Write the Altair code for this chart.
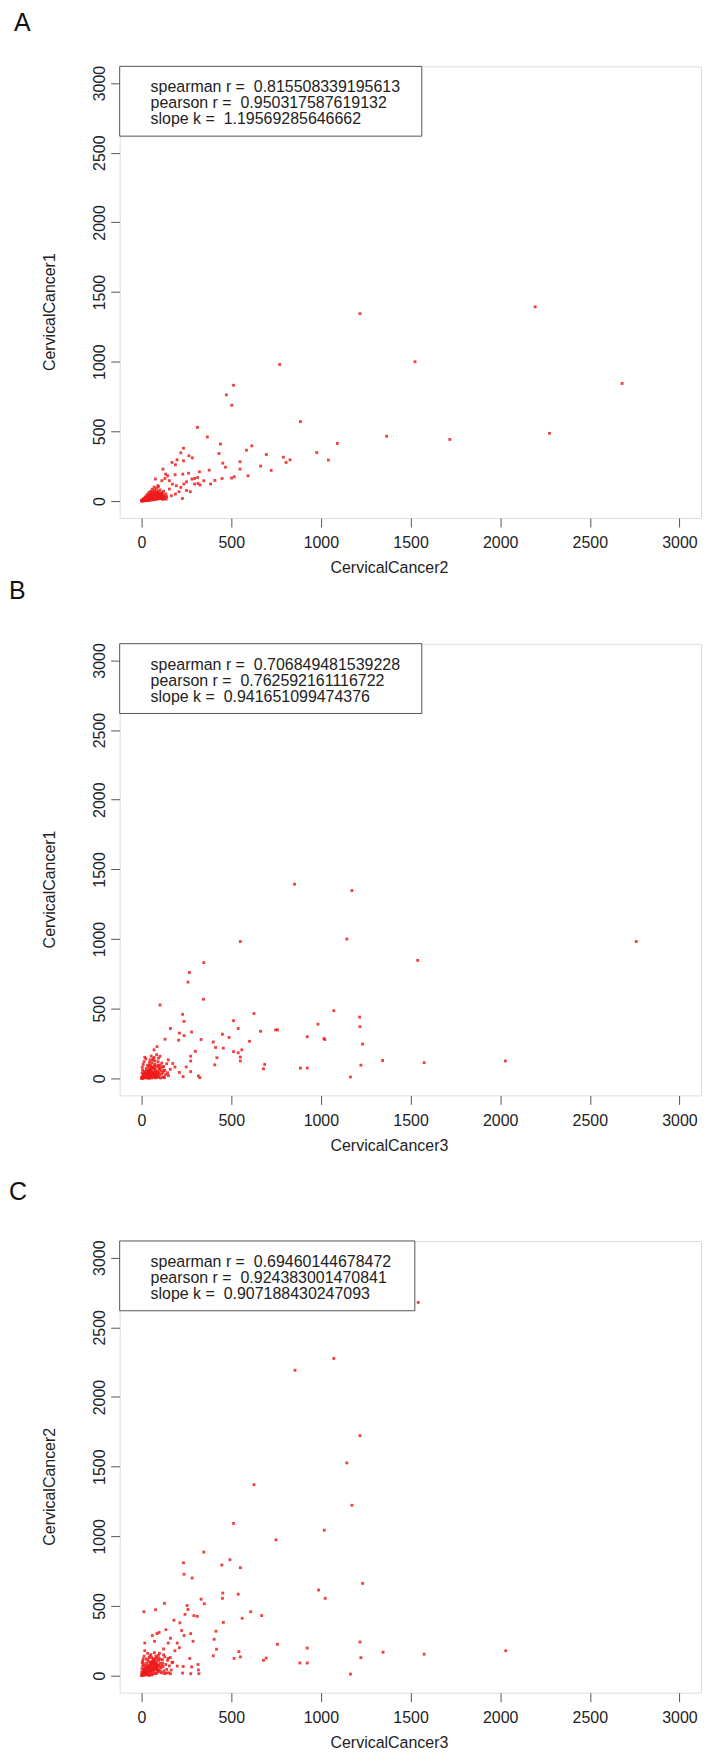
import altair as alt
import pandas as pd

FONT = "Liberation Sans"
RED = "#ee1c1c"
FRAME = "#555555"
TEXT = "#222222"
TICKS = [0, 500, 1000, 1500, 2000, 2500, 3000]
DOMAIN = [-122, 3120]

# ---------------- Panel A : x = CervicalCancer2, y = CervicalCancer1 ----------------
a_x = [2195, 1218, 770, 1525, 2680, 513, 473, 503, 886, 312, 367, 2275, 1367, 1719, 1092, 440, 977, 1042,
       432, 585, 615, 696, 791, 828, 806, 549, 664, 723, 594, 517, 502, 453, 468, 549, 449, 377, 385, 409,
       323, 313, 315, 296, 234, 219, 264, 283, 198, 189, 170, 234, 119, 134, 145, 130, 172, 194, 230, 262,
       281, 296, 236, 219, 251, 228, 272, 209, 155, 113, 91, 77, 166, 138, 189, 155, 187, 251, 326, 347,
       2, 5, 8, 10, 12, 15, 18, 20, 22, 25, 28, 30, 32, 35, 38, 40, 42, 45, 48, 50, 52, 55, 58, 60, 62, 65,
       68, 70, 72, 75, 78, 80, 82, 85, 88, 90, 92, 95, 98, 100, 104, 108, 112, 116, 120, 125, 130, 135, 140,
       6, 14, 24, 34, 44, 54, 64, 74, 84, 94, 40, 50, 60, 70, 30, 20, 10, 3, 16, 26, 36, 46, 56, 66, 76, 86,
       96, 106, 118, 128, 33, 43, 53, 63, 73, 83, 93, 103, 113, 123, 57, 47, 37, 27, 17, 7,
       4, 9, 13, 19, 23, 29, 31, 39, 41, 49, 51, 59, 61, 69, 71, 79, 81, 89, 91, 99, 101, 109, 111, 119,
       11, 21, 31, 41, 51, 61, 71, 81, 91, 101, 111, 121, 131, 15, 25, 35, 45, 55, 65, 75, 85, 95, 105, 115,
       1, 3, 6, 9, 12, 14, 17, 19, 23, 26, 29, 33, 36, 39, 44, 47, 52, 57, 63, 67, 72, 77, 83, 87]
a_y = [1394, 1345, 980, 1000, 844, 831, 762, 688, 570, 529, 460, 486, 465, 442, 414, 409, 348, 294,
       341, 365, 396, 334, 315, 296, 277, 282, 251, 220, 181, 174, 165, 272, 243, 229, 162, 222, 122, 148,
       210, 169, 126, 162, 379, 346, 325, 310, 296, 260, 277, 289, 229, 193, 181, 162, 122, 110, 193, 200,
       158, 122, 122, 98, 76, 19, 67, 67, 86, 146, 110, 158, 38, 14, 50, 146, 189, 138, 115, 146,
       1, 3, 2, 6, 9, 4, 12, 7, 15, 10, 18, 5, 22, 14, 26, 9, 30, 18, 34, 12, 25, 40, 20, 30, 45, 15,
       35, 50, 24, 42, 28, 55, 18, 38, 48, 22, 60, 33, 44, 26, 52, 36, 20, 46, 30, 40, 24, 50, 32,
       8, 16, 26, 36, 48, 58, 70, 80, 92, 105, 60, 70, 85, 100, 45, 30, 14, 5, 2, 3, 4, 6, 8, 10, 12, 14,
       16, 18, 12, 16, 12, 22, 32, 42, 52, 62, 72, 80, 62, 70, 50, 40, 30, 22, 14, 4,
       2, 6, 10, 14, 18, 22, 26, 30, 34, 38, 42, 46, 50, 54, 58, 62, 66, 58, 54, 50, 46, 42, 38, 34,
       3, 5, 7, 9, 11, 13, 15, 17, 19, 21, 23, 25, 27, 12, 18, 24, 28, 32, 36, 40, 44, 48, 52, 56,
       1, 2, 4, 7, 10, 6, 13, 16, 20, 9, 25, 28, 15, 31, 24, 37, 33, 20, 41, 30, 27, 45, 36, 40]

# ---------------- Panel B : x = CervicalCancer3, y = CervicalCancer1 ----------------
b_x = [853, 1173, 551, 1145, 2759, 1540, 347, 267, 259, 345, 103, 229, 237, 627, 1072, 1216, 1218, 1233,
       513, 539, 451, 488, 664, 748, 758, 984, 924, 1017, 1022, 602, 400, 413, 456, 513, 539, 559, 551, 551,
       420, 408, 687, 680, 886, 924, 1344, 1576, 2029, 1223, 1165, 161, 211, 131, 207, 237, 279, 332, 300,
       274, 274, 249, 274, 317, 325, 232, 149, 174, 103, 86, 70, 48, 18, 123, 211, 186, 98,
       2, 5, 8, 10, 12, 15, 18, 20, 22, 25, 28, 30, 32, 35, 38, 40, 42, 45, 48, 50, 52, 55, 58, 60, 62, 65,
       68, 70, 72, 75, 78, 80, 82, 85, 88, 90, 92, 95, 98, 100, 104, 108, 112, 116, 120, 125, 130, 135, 140,
       145, 3, 6, 4, 9, 14, 24, 34, 44, 54, 64, 74, 84, 94, 10, 16, 26, 36, 46, 56, 66, 76, 86, 96, 106, 118,
       128, 33, 43, 53, 63, 73, 83, 93, 103, 113, 123, 57, 47, 37, 27, 17, 7, 1, 150, 160,
       4, 9, 13, 19, 23, 29, 31, 39, 41, 49, 51, 59, 61, 69, 71, 79, 81, 89, 11, 21, 31, 41, 51, 61, 71, 81,
       1, 3, 6, 9, 12, 14, 17, 19, 23, 26, 29, 33, 36, 39, 44, 47, 52, 57, 63, 67, 72, 77, 83, 87]
b_y = [1394, 1348, 982, 1000, 982, 847, 831, 760, 691, 568, 527, 460, 409, 465, 486, 440, 371, 246,
       414, 358, 317, 294, 338, 348, 348, 389, 299, 286, 279, 266, 261, 222, 217, 192, 184, 205, 125, 153,
       148, 97, 100, 69, 74, 74, 128, 113, 125, 95, 10, 358, 325, 281, 274, 307, 333, 279, 194,
       159, 125, 82, 49, 18, 5, 13, 133, 107, 159, 228, 205, 133, 151, 56, 43, 82, 82,
       2, 10, 4, 20, 8, 30, 14, 40, 5, 25, 50, 12, 35, 60, 18, 45, 8, 70, 28, 90, 15, 55, 110, 35, 130, 20,
       75, 150, 42, 100, 10, 60, 30, 85, 48, 18, 120, 40, 65, 25, 95, 52, 32, 80, 44, 12, 58, 28, 105,
       40, 40, 60, 80, 100, 120, 140, 95, 115, 160, 140, 125, 170, 145, 30, 50, 70, 85, 5, 3, 8, 4, 6, 9, 3, 7,
       5, 2, 1, 20, 45, 65, 15, 95, 70, 110, 85, 75, 95, 22, 16, 24, 15, 5, 20, 65,
       6, 12, 18, 24, 30, 36, 42, 48, 54, 60, 66, 72, 78, 84, 90, 28, 34, 40, 3, 9, 15, 21, 27, 33, 39, 45,
       1, 2, 4, 7, 10, 6, 13, 16, 20, 9, 25, 28, 15, 31, 24, 37, 33, 20, 41, 30, 27, 45, 36, 40]

# ---------------- Panel C : x = CervicalCancer3, y = CervicalCancer2 ----------------
c_x = [1543, 1072, 856, 1218, 1145, 627, 1173, 513, 1019, 750, 347, 234, 493, 448, 551, 237, 282, 1233,
       987, 1024, 453, 539, 332, 451, 350, 128, 78, 13, 609, 670, 254, 259, 242, 292, 310, 181, 214, 456,
       561, 415, 405, 758, 924, 1218, 1347, 1576, 2031, 1223, 1165, 883, 924, 680, 695, 516, 543, 551, 400,
       418, 315, 317, 320, 279, 274, 229, 232, 269, 287, 274, 224, 199, 237, 211, 149, 123, 86, 98, 60, 73,
       18, 18, 136, 161, 186, 149, 174, 136, 161, 199, 103,
       2, 5, 8, 10, 12, 15, 18, 20, 22, 25, 28, 30, 32, 35, 38, 40, 42, 45, 48, 50, 52, 55, 58, 60, 62, 65,
       68, 70, 72, 75, 78, 80, 82, 85, 88, 90, 92, 95, 98, 100, 104, 108, 112, 116, 120, 125, 130, 135, 140,
       145, 150, 155, 160, 165, 170, 3, 6, 4, 9, 14, 24, 34, 44, 54, 64, 74, 84, 94, 10, 16, 26, 36, 46, 56,
       66, 76, 86, 96, 106, 118, 128, 33, 43, 53, 63, 73, 83, 93, 103, 113, 123, 1, 7, 17, 27, 37, 47, 57, 67,
       4, 9, 13, 19, 23, 29, 31, 39, 41, 49, 51, 59, 61, 69, 71, 79, 81, 89, 11, 21, 31, 41, 51, 61, 71, 81,
       1, 3, 6, 9, 12, 14, 17, 19, 23, 26, 29, 33, 36, 39, 44, 47, 52, 57, 63, 67, 72, 77, 83, 87]
c_y = [2679, 2277, 2192, 1723, 1527, 1371, 1223, 1093, 1044, 975, 887, 810, 832, 794, 775, 728, 701, 662,
       615, 555, 593, 585, 549, 555, 516, 519, 473, 459, 459, 431, 503, 475, 440, 431, 426, 398, 379, 382,
       412, 319, 261, 225, 198, 242, 168, 154, 179, 129, 11, 91, 91, 110, 126, 124, 173, 135, 143,
       190, 80, 41, 14, 63, 14, 19, 66, 124, 247, 302, 324, 234, 288, 201, 234, 192, 302, 310, 288, 247,
       234, 179, 330, 269, 179, 124, 96, 19, 14, 69, 63,
       3, 15, 30, 6, 45, 20, 60, 10, 75, 35, 90, 18, 50, 110, 25, 65, 130, 8, 80, 40, 150, 22, 95, 55, 12, 120,
       70, 30, 165, 85, 45, 140, 15, 100, 60, 25, 125, 75, 40, 160, 90, 55, 20, 115, 65, 35, 135, 80, 45,
       110, 20, 70, 130, 40, 95, 50, 70, 95, 120, 140, 55, 160, 100, 35, 85, 110, 50, 145, 85, 40, 120, 70, 55,
       130, 45, 60, 75, 110, 28, 90, 15, 5, 2, 65, 100, 15, 125, 35, 120, 75, 150, 25, 105, 5, 8, 45, 140, 5, 95,
       8, 16, 24, 32, 40, 48, 56, 64, 72, 80, 88, 96, 104, 112, 120, 60, 50, 40, 4, 12, 20, 28, 36, 44, 52, 60,
       2, 5, 9, 14, 20, 11, 26, 33, 40, 18, 50, 57, 30, 62, 48, 75, 66, 40, 82, 60, 54, 90, 72, 80]

a_stats = ["spearman r =\u00a0 0.815508339195613",
           "pearson r =\u00a0 0.950317587619132",
           "slope k =\u00a0 1.19569285646662"]
b_stats = ["spearman r =\u00a0 0.706849481539228",
           "pearson r =\u00a0 0.762592161116722",
           "slope k =\u00a0 0.941651099474376"]
c_stats = ["spearman r =\u00a0 0.69460144678472",
           "pearson r =\u00a0 0.924383001470841",
           "slope k =\u00a0 0.907188430247093"]

W, H = 583, 453


def panel(xs, ys, xt, yt, stats, letter, letter_x, letter_y, anchor_y, box_w):
    df = pd.DataFrame({"x": xs, "y": ys})
    one = pd.DataFrame({"k": [0]})
    sc = alt.Scale(domain=DOMAIN, nice=False, zero=False)
    common = dict(values=TICKS, format="d", grid=False, domain=False, tickSize=9, tickColor=FRAME,
                  tickWidth=1, labelFont=FONT, labelFontSize=16, labelColor=TEXT, labelFlush=False,
                  labelOverlap=False, titleFont=FONT, titleFontSize=16, titleFontWeight="normal",
                  titleColor=TEXT)
    xaxis = alt.Axis(title=xt, labelPadding=8, titleX=270, titleY=42, titleBaseline="top",
                     titleAlign="center", **common)
    yaxis = alt.Axis(title=yt, labelAngle=270, labelAlign="center", labelBaseline="bottom", labelPadding=3,
                     titleAngle=270, titleX=-62, titleY=246, titleBaseline="bottom", titleAlign="center",
                     **common)
    pts = alt.Chart(df).mark_square(size=8, color=RED, opacity=0.85).encode(
        x=alt.X("x:Q", scale=sc, axis=xaxis),
        y=alt.Y("y:Q", scale=sc, axis=yaxis),
    )
    box = alt.Chart(one).mark_rect(fill="white", stroke=FRAME, strokeWidth=1).encode(
        x=alt.value(0), x2=alt.value(box_w), y=alt.value(0), y2=alt.value(70))
    lines = []
    for i, s in enumerate(stats):
        lines.append(
            alt.Chart(one).mark_text(align="left", baseline="middle", font=FONT, fontSize=16,
                                     color=TEXT).encode(
                x=alt.value(31), y=alt.value(21 + 16 * i), text=alt.value(s)))
    lab = alt.Chart(one).mark_text(align="left", baseline="top", font=FONT, fontSize=25,
                                   color="#111111").encode(
        x=alt.value(letter_x), y=alt.value(letter_y), text=alt.value(letter))
    anchor = alt.Chart(one).mark_text(align="left", baseline="top", font=FONT, fontSize=16,
                                      opacity=0).encode(
        x=alt.value(-111), y=alt.value(anchor_y), text=alt.value("."))
    return alt.layer(pts, box, *lines, lab, anchor).properties(width=W, height=H)


pA = panel(a_x, a_y, "CervicalCancer2", "CervicalCancer1", a_stats, "A", -106, -55, -55, 303)
pB = panel(b_x, b_y, "CervicalCancer3", "CervicalCancer1", b_stats, "B", -111, -65, -66, 303)
pC = panel(c_x, c_y, "CervicalCancer3", "CervicalCancer2", c_stats, "C", -111, -61, -86, 296)

chart = alt.vconcat(pA, pB, pC, spacing=0).properties(
    padding={"left": 0, "top": 0, "right": 0, "bottom": 0}
).configure_view(stroke=FRAME, strokeWidth=1).configure(background="white")

chart.save("out.html", embed_options={"renderer": "svg", "actions": False})
